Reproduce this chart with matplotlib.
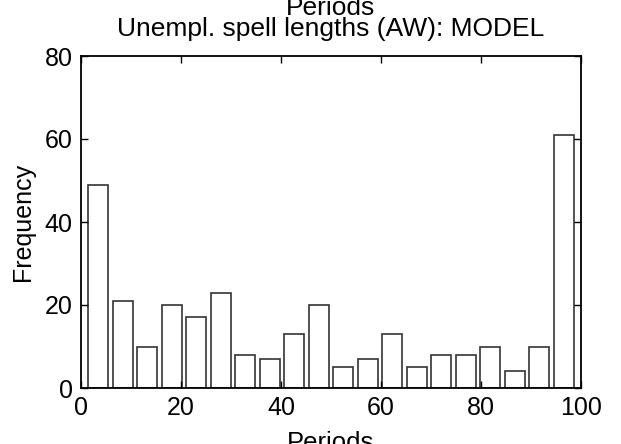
import matplotlib
matplotlib.use("Agg")
import matplotlib.pyplot as plt
import numpy as np

bin_centers = [3.45, 8.35, 13.25, 18.15, 23.05, 27.95, 32.85, 37.75, 42.65, 47.55,
               52.45, 57.35, 62.25, 67.15, 72.05, 76.95, 81.85, 86.75, 91.65, 96.55]
counts = [49, 21, 10, 20, 17, 23, 8, 7, 13, 20, 5, 7, 13, 5, 8, 8, 10, 4, 10, 61]
x_ticks = [0, 20, 40, 60, 80, 100]
y_ticks = [0, 20, 40, 60, 80]

plt.rcParams['font.family'] = ['Liberation Sans', 'DejaVu Sans']
fig = plt.figure(figsize=(6.21, 4.44), dpi=100)
ax = fig.add_axes([81/621, 1-388/444, 500/621, 332/444])
ax.bar(bin_centers, counts, width=3.92, facecolor='white', edgecolor='#333333', linewidth=1.2)
ax.set_xlim(0, 100)
ax.set_ylim(0, 80)
ax.set_xticks(x_ticks)
ax.set_yticks(y_ticks)
ax.tick_params(direction='in', top=True, right=True, labelsize=18, length=5, width=1, pad=6)
for s in ax.spines.values():
    s.set_linewidth(1.3)
ax.set_ylabel('Frequency', fontsize=18, labelpad=7)
xc = (81 + 581) / 2 / 621
fig.text(xc, 1 - 36/444, 'Unempl. spell lengths (AW): MODEL', fontsize=19, ha='center', va='baseline')
fig.text(xc, 1 - 15/444, 'Periods', fontsize=19, ha='center', va='baseline')
fig.text(xc, 1 - 450/444, 'Periods', fontsize=18.5, ha='center', va='baseline')
fig.savefig('out.png', dpi=100)
